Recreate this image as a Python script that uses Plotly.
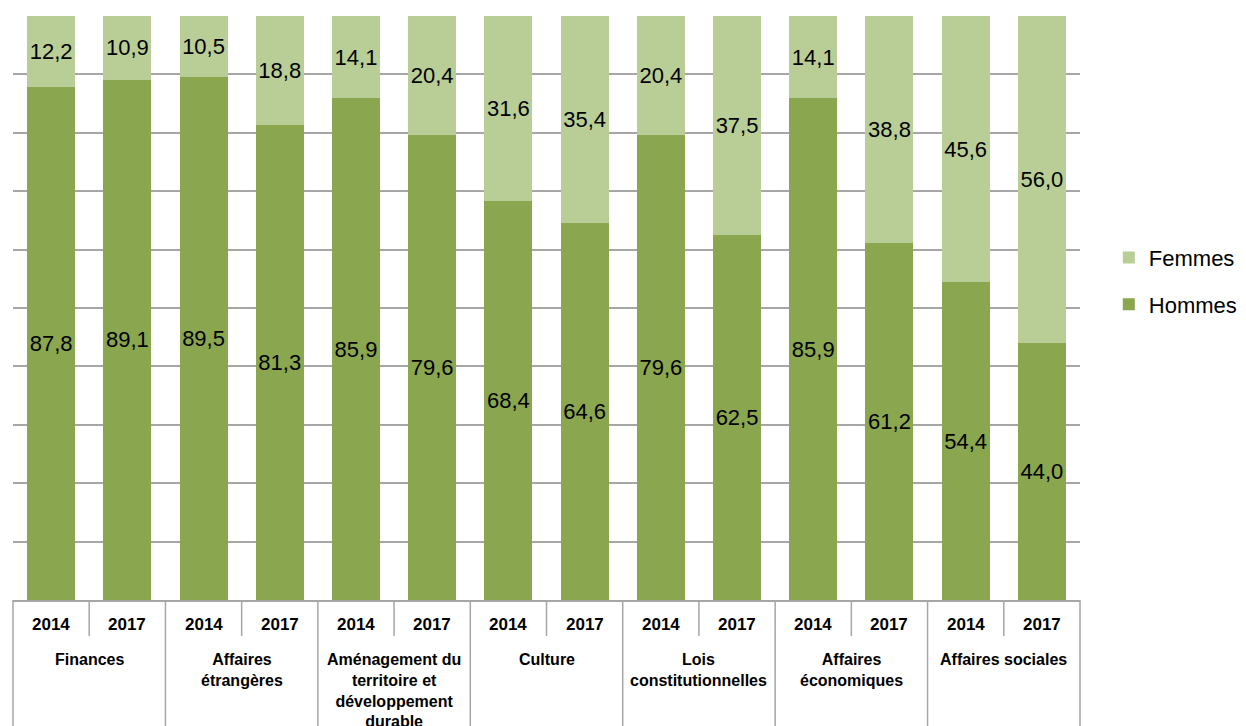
import plotly.graph_objects as go

categories = ["Finances", "Affaires<br>étrangères", "Aménagement du<br>territoire et<br>développement<br>durable",
              "Culture", "Lois<br>constitutionnelles", "Affaires<br>économiques", "Affaires sociales"]
years = ["2014", "2017"]
hommes = [87.8, 89.1, 89.5, 81.3, 85.9, 79.6, 68.4, 64.6, 79.6, 62.5, 85.9, 61.2, 54.4, 44.0]
femmes = [12.2, 10.9, 10.5, 18.8, 14.1, 20.4, 31.6, 35.4, 20.4, 37.5, 14.1, 38.8, 45.6, 56.0]

n = len(hommes)
xs = list(range(n))
year_labels = [years[i % 2] for i in xs]

C_H = "#8AA64F"
C_F = "#B9CE97"
GRID = "#A6A6A6"
LABEL_FONT = dict(family="Liberation Sans", size=22, color="black")
YEAR_FONT = dict(family="Liberation Sans", size=17, color="black")
AXIS_FONT = dict(family="Liberation Sans", size=16, color="black")

fig = go.Figure()
fig.add_trace(go.Bar(x=xs, y=hommes, name="Hommes", marker=dict(color=C_H, line=dict(width=0)),
                     width=0.63, texttemplate="%{y:.1f}", textposition="inside", textangle=0,
                     constraintext="none", legendgroup="h", legendrank=2,
                     insidetextanchor="middle", textfont=LABEL_FONT))
fig.add_trace(go.Bar(x=xs, y=femmes, name="Femmes", marker=dict(color=C_F, line=dict(width=0)),
                     width=0.63, texttemplate="%{y:.1f}", textposition="inside", textangle=0,
                     constraintext="none", legendgroup="f", legendrank=1,
                     insidetextanchor="middle", textfont=LABEL_FONT))

top, bottom = 16, 600
plot_h = bottom - top

def py(px):
    return -(px - bottom) / plot_h

annotations = []
for i in xs:
    annotations.append(dict(x=i, y=py(625), xref="x", yref="paper", text="<b>%s</b>" % year_labels[i],
                            showarrow=False, yanchor="middle", font=YEAR_FONT))
for k, c in enumerate(categories):
    annotations.append(dict(x=2 * k + 0.5, y=py(649), xref="x", yref="paper", text="<b>%s</b>" % c,
                            showarrow=False, yanchor="top", align="center", font=AXIS_FONT))

shapes = []
for j in range(n + 1):
    xp = j / n
    y1 = py(726) if j % 2 == 0 else py(636)
    shapes.append(dict(type="line", xref="paper", yref="paper", x0=xp, x1=xp, y0=0, y1=y1,
                       line=dict(color=GRID, width=1.5)))

fig.update_layout(
    width=1246, height=726,
    margin=dict(l=13, r=166, t=16, b=126, autoexpand=False),
    barmode="stack",
    separators=",.",
    plot_bgcolor="white", paper_bgcolor="white",
    xaxis=dict(range=[-0.5, n - 0.5], showticklabels=False, showgrid=False, zeroline=False,
               showline=True, linecolor=GRID, linewidth=1.5, ticks=""),
    yaxis=dict(range=[0, 100], dtick=10, showticklabels=False, showgrid=True, gridcolor=GRID,
               gridwidth=1.5, zeroline=False, showline=False, ticks=""),
    legend=dict(x=1.027, xanchor="left", y=0.622, yanchor="top", traceorder="grouped",
                tracegroupgap=15,
                font=dict(family="Liberation Sans", size=22, color="black"),
                bgcolor="rgba(0,0,0,0)"),
    annotations=annotations,
    shapes=shapes,
    showlegend=True,
)

fig.write_html("out.html")
